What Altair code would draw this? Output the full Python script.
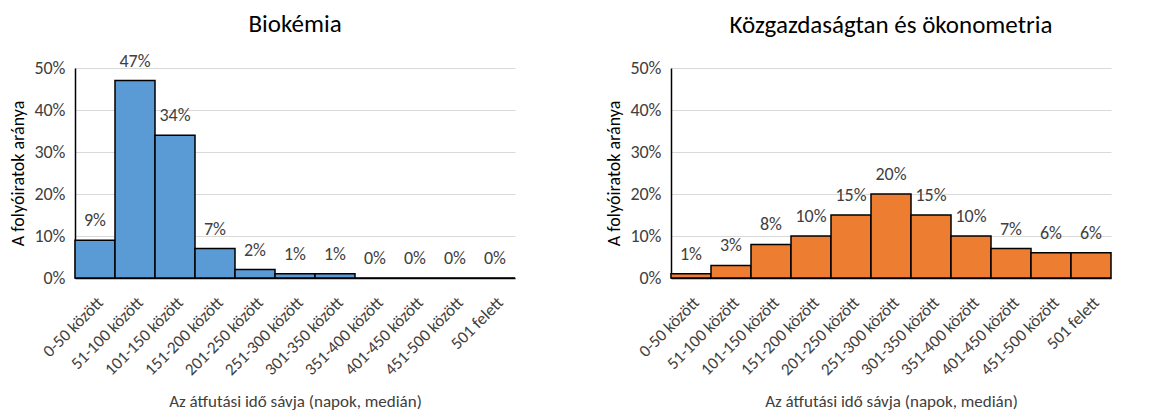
import altair as alt
import pandas as pd

categories = ["0-50 között", "51-100 között", "101-150 között", "151-200 között",
              "201-250 között", "251-300 között", "301-350 között", "351-400 között",
              "401-450 között", "451-500 között", "501 felett"]
bio_values = [9, 47, 34, 7, 2, 1, 1, 0, 0, 0, 0]
econ_values = [1, 3, 8, 10, 15, 20, 15, 10, 7, 6, 6]
titles = ["Biokémia", "Közgazdaságtan és ökonometria"]
colors = ["#5B9BD5", "#ED7D31"]
y_ticks = [0, 10, 20, 30, 40, 50]

FONT = "Carlito, Lato, sans-serif"


def panel(values, title, color, title_offset):
    df = pd.DataFrame({"cat": categories, "val": values,
                       "lab": [f"{v}%" for v in values]})
    x = alt.X("cat:N", sort=categories,
              scale=alt.Scale(paddingInner=0, paddingOuter=0),
              axis=alt.Axis(title="Az átfutási idő sávja (napok, medián)",
                            labelAngle=-45, ticks=False, domainColor="#000000",
                            domainWidth=1.5, labelFontSize=17, labelColor="#404040",
                            titleFontSize=17, titleColor="#404040", titleFontWeight="normal",
                            labelPadding=16, titlePadding=16))
    y = alt.Y("val:Q", scale=alt.Scale(domain=[0, 50], nice=False),
              axis=alt.Axis(title="A folyóiratok aránya", values=y_ticks,
                            labelExpr="datum.value + '%'", ticks=False,
                            domainColor="#000000", domainWidth=1.5,
                            gridColor="#D9D9D9", gridWidth=1.2,
                            labelFontSize=18, labelColor="#404040",
                            titleFontSize=18, titleColor="#000000", titleFontWeight="normal",
                            labelPadding=10, titlePadding=6))
    bars = alt.Chart(df).mark_bar(color=color, stroke="#000000", strokeWidth=1.5).encode(x=x, y=y)
    text = alt.Chart(df).mark_text(dy=-19, fontSize=18, color="#404040", font=FONT,
                                   baseline="middle").encode(
        x=alt.X("cat:N", sort=categories), y="val:Q", text="lab:N")
    return (bars + text).properties(
        width=440, height=210,
        title=alt.TitleParams(title, fontSize=25, font=FONT, fontWeight="normal",
                              color="#000000", offset=title_offset))


left = panel(bio_values, titles[0], colors[0], 16)
right = panel(econ_values, titles[1], colors[1], 21)

chart = alt.hconcat(left, right, spacing=89).properties(
    padding={"left": 1, "top": 3, "right": 5, "bottom": 3}
).configure(font=FONT).configure_view(
    stroke=None).configure_axis(labelFont=FONT, titleFont=FONT)

chart.save("out.html", embed_options={"renderer": "svg", "actions": False})
